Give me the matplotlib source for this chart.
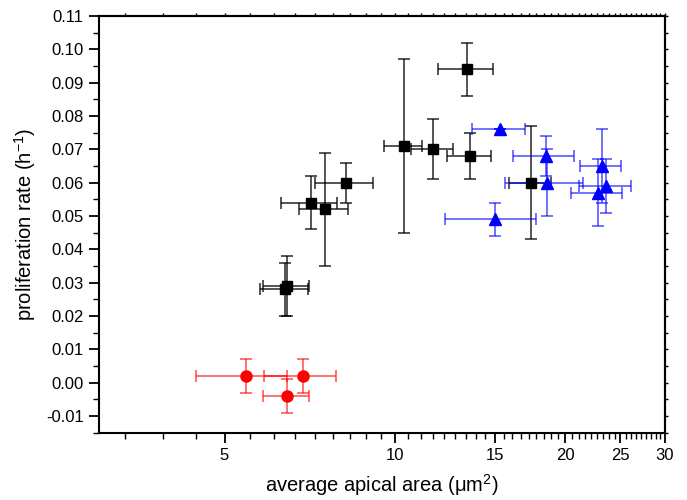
import matplotlib
matplotlib.use("Agg")
import matplotlib.pyplot as plt
import numpy as np
from matplotlib.ticker import FixedLocator, FormatStrFormatter, MultipleLocator, NullFormatter

plt.rcParams['font.family'] = ['Liberation Sans', 'DejaVu Sans']
plt.rcParams['mathtext.default'] = 'regular'
plt.rcParams['axes.unicode_minus'] = False

# black squares
black_x = [13.4, 10.37, 11.68, 13.57, 17.4, 7.10, 7.52, 8.18, 6.40, 6.45]
black_y = [0.094, 0.071, 0.070, 0.068, 0.060, 0.054, 0.052, 0.060, 0.028, 0.029]
black_xerr = [1.5, 0.8, 1.0, 1.2, 1.5, 0.8, 0.74, 0.97, 0.62, 0.6]
black_yerr = [0.008, 0.026, 0.009, 0.007, 0.017, 0.008, 0.017, 0.006, 0.008, 0.009]

# blue triangles
blue_x = [15.34, 18.45, 18.57, 15.02, 23.18, 23.62, 22.83]
blue_y = [0.076, 0.068, 0.060, 0.049, 0.065, 0.059, 0.057]
blue_xerr = [1.65, 2.3, 2.9, 2.75, 1.95, 2.5, 2.4]
blue_yerr = [0.0, 0.006, 0.010, 0.005, 0.011, 0.008, 0.010]

# red circles
red_x = [5.45, 6.45, 6.88]
red_y = [0.002, -0.004, 0.002]
red_xerr = [1.0, 0.6, 1.0]
red_yerr = [0.005, 0.005, 0.005]

x_major = [5, 10, 15, 20, 25, 30]

fig = plt.figure(figsize=(6.87, 5.0), dpi=100)
ax = fig.add_axes([0.144, 0.135, 0.824, 0.833])

series = [
    (black_x, black_y, black_xerr, black_yerr, 's', 'black', (0, 0, 0, 0.85), 7),
    (blue_x, blue_y, blue_xerr, blue_yerr, '^', 'blue', (0, 0, 1, 0.7), 8),
    (red_x, red_y, red_xerr, red_yerr, 'o', 'red', (1, 0, 0, 0.7), 8),
]
for x, y, xe, ye, m, c, ec, ms in series:
    ax.errorbar(x, y, xerr=xe, yerr=ye, fmt='none', ecolor=ec, elinewidth=1.1,
                capsize=4, capthick=1.1, zorder=2)
    ax.plot(x, y, linestyle='none', marker=m, color=c, markersize=ms, zorder=3)

ax.set_xscale('log')
ax.set_xlim(3, 30)
ax.set_ylim(-0.015, 0.11)

# Origin-style linear minor ticks within log axis
minor = []
for lo in [0, 5, 10, 15, 20, 25]:
    for k in range(1, 9):
        v = lo + k * 5 / 9
        if 3 < v < 30:
            minor.append(v)
ax.xaxis.set_major_locator(FixedLocator(x_major))
ax.xaxis.set_minor_locator(FixedLocator(minor))
ax.xaxis.set_major_formatter(FormatStrFormatter('%d'))
ax.xaxis.set_minor_formatter(NullFormatter())
ax.yaxis.set_major_locator(MultipleLocator(0.01))
ax.yaxis.set_minor_locator(MultipleLocator(0.005))
ax.yaxis.set_major_formatter(FormatStrFormatter('%.2f'))

for s in ax.spines.values():
    s.set_linewidth(1.5)
ax.tick_params(which='major', direction='out', length=7, width=1.3, labelsize=12, pad=4)
ax.tick_params(which='minor', direction='out', length=4, width=1.0)

# short mirrored ticks on top and right
top = ax.secondary_xaxis('top')
top.xaxis.set_major_locator(FixedLocator(x_major))
top.xaxis.set_minor_locator(FixedLocator(minor))
top.tick_params(which='both', direction='out', length=2.5, width=1.0,
                labeltop=False)
top.spines['top'].set_linewidth(1.5)
right = ax.secondary_yaxis('right')
right.yaxis.set_major_locator(MultipleLocator(0.01))
right.yaxis.set_minor_locator(MultipleLocator(0.005))
right.tick_params(which='both', direction='out', length=2.5, width=1.0,
                  labelright=False)
right.spines['right'].set_linewidth(1.5)

ax.set_xlabel('average apical area (\u03bcm$^2$)', fontsize=14.5, labelpad=7)
ax.set_ylabel('proliferation rate (h$^{-1}$)', fontsize=14.5, labelpad=6)

fig.savefig('out.png', dpi=100)
